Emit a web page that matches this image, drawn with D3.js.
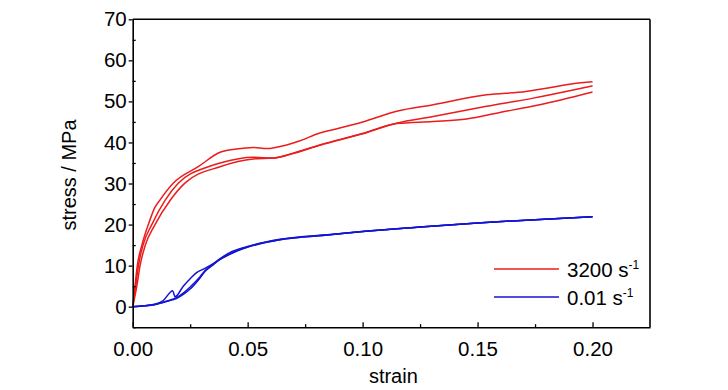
<!DOCTYPE html>
<html>
<head>
<meta charset="utf-8">
<script src="https://cdn.jsdelivr.net/npm/d3@7"></script>
<style>
  html, body { margin: 0; padding: 0; background: #fff; }
  svg { display: block; font-family: "Liberation Sans", Arial, sans-serif; }
</style>
</head>
<body>
<svg id="chart" width="728" height="390"></svg>
<script>
// ---- data (strain, stress MPa) ----
const redA = [[0,0],[0.001,5],[0.002,10],[0.004,15],[0.0068,20],[0.0095,24],[0.0119,26],[0.0177,30.1],[0.0285,34.1],[0.038,37.6],[0.045,38.4],[0.0524,38.8],[0.0583,38.5],[0.067,39.4],[0.0728,40.4],[0.0814,42.3],[0.087,43.1],[0.1,45.0],[0.1148,47.6],[0.1307,49.2],[0.1539,51.6],[0.171,52.4],[0.18,53.2],[0.1914,54.3],[0.2,54.8]];
const redB = [[0,0],[0.0013,5],[0.0025,10],[0.0045,15],[0.0083,20],[0.0142,26],[0.0199,30.1],[0.0329,34.1],[0.038,35.0],[0.0524,36.4],[0.0611,36.2],[0.0698,37.4],[0.0814,39.4],[0.1,42.2],[0.1148,44.7],[0.1307,46.3],[0.1539,48.8],[0.1742,50.8],[0.19,52.6],[0.2,53.8]];
const redC = [[0,0],[0.0018,5],[0.0032,10],[0.0055,15],[0.0097,20],[0.0164,26],[0.0227,30.1],[0.038,34.1],[0.0524,36.0],[0.0611,36.2],[0.0698,37.3],[0.0814,39.3],[0.1,42.1],[0.1148,44.6],[0.1307,45.1],[0.1452,45.7],[0.1597,47.3],[0.177,49.2],[0.2,52.3]];
const blueA = [[0,0],[0.005,0.2],[0.01,0.65],[0.0133,1.5],[0.0174,3.9],[0.0184,2.4],[0.022,5.0],[0.025,6.8],[0.0278,8.3],[0.031,9.2],[0.035,10.5],[0.038,11.7],[0.0424,13.2],[0.0496,14.6],[0.064,16.4],[0.0858,17.6],[0.1,18.3],[0.125,19.4],[0.15,20.4],[0.175,21.2],[0.2,21.9]];
const blueB = [[0,0],[0.005,0.2],[0.01,0.6],[0.015,1.4],[0.019,2.2],[0.022,3.3],[0.025,4.8],[0.0293,7.3],[0.0315,8.8],[0.035,10.3],[0.038,11.5],[0.0424,12.8],[0.0496,14.5],[0.064,16.3],[0.0858,17.5],[0.1,18.3],[0.125,19.4],[0.15,20.4],[0.175,21.2],[0.2,21.9]];
const blueC = [[0,0],[0.005,0.2],[0.01,0.55],[0.015,1.3],[0.019,2.0],[0.022,3.0],[0.025,4.3],[0.0293,7.0],[0.0315,8.6],[0.035,10.2],[0.038,11.5],[0.043,13.0],[0.0496,14.4],[0.064,16.3],[0.0858,17.5],[0.1,18.3],[0.125,19.4],[0.15,20.4],[0.175,21.2],[0.2,21.9]];

const redSeries = [redA, redB, redC];
const blueSeries = [blueA, blueB, blueC];
const xTicks = [0, 0.05, 0.10, 0.15, 0.20];
const xMinorTicks = [0.025, 0.075, 0.125, 0.175];
const yTicks = [0, 10, 20, 30, 40, 50, 60, 70];
const yMinorTicks = [-5, 5, 15, 25, 35, 45, 55, 65];
const legendLabels = ["3200", "0.01"];

// ---- layout ----
const svg = d3.select("#chart");
const L = 132.7, R = 650, T = 19.3, B = 327.2;
const x = d3.scaleLinear().domain([0, 0.225]).range([L, R]);
const y = d3.scaleLinear().domain([-5, 70]).range([B, T]);

const red = "#ea1c1c", blue = "#1414d2";

const line = d3.line().x(d => x(d[0])).y(d => y(d[1])).curve(d3.curveMonotoneX);

const plot = svg.append("g");
redSeries.forEach(s => plot.append("path").attr("d", line(s)).attr("fill", "none")
  .attr("stroke", red).attr("stroke-width", 1.5));
blueSeries.forEach(s => plot.append("path").attr("d", line(s)).attr("fill", "none")
  .attr("stroke", blue).attr("stroke-width", 1.5));

// frame (top & right)
svg.append("line").attr("x1", L).attr("x2", R).attr("y1", T).attr("y2", T)
  .attr("stroke", "#000").attr("stroke-width", 1.6);
svg.append("line").attr("x1", R).attr("x2", R).attr("y1", T).attr("y2", B)
  .attr("stroke", "#000").attr("stroke-width", 1.6);

// bottom axis (ticks inward)
const xAxis = d3.axisBottom(x).tickValues(xTicks).tickFormat(d3.format(".2f")).tickSizeInner(-5).tickSizeOuter(0).tickPadding(14);
svg.append("g").attr("transform", `translate(0,${B})`).call(xAxis);
const xMinor = d3.axisBottom(x).tickValues(xMinorTicks).tickSize(-3).tickFormat("");
svg.append("g").attr("transform", `translate(0,${B})`).call(xMinor).select(".domain").remove();

// left axis (major ticks outward, minor inward)
const yAxis = d3.axisLeft(y).tickValues(yTicks).tickFormat(d3.format("d")).tickSizeInner(4).tickSizeOuter(0).tickPadding(2);
svg.append("g").attr("transform", `translate(${L},0)`).call(yAxis);
const yMinor = d3.axisLeft(y).tickValues(yMinorTicks).tickSize(-3).tickFormat("");
svg.append("g").attr("transform", `translate(${L},0)`).call(yMinor).select(".domain").remove();

svg.selectAll(".domain").attr("stroke-width", 1.6);
svg.selectAll(".tick line").attr("stroke-width", 1.3);
svg.selectAll(".tick text").attr("font-size", 20.5).attr("font-family", "Liberation Sans, Arial, sans-serif").attr("fill", "#000");

// axis titles
svg.append("text").attr("x", (L + R) / 2 + 2).attr("y", 383).attr("text-anchor", "middle")
  .attr("font-size", 20).text("strain");
svg.append("text").attr("transform", `translate(76,175) rotate(-90)`).attr("text-anchor", "middle")
  .attr("font-size", 20).text("stress / MPa");

// legend
const leg = svg.append("g");
[[red, legendLabels[0], 269], [blue, legendLabels[1], 297]].forEach(([c, lab, yy]) => {
  leg.append("line").attr("x1", 494).attr("x2", 559).attr("y1", yy).attr("y2", yy)
    .attr("stroke", c).attr("stroke-width", 1.5);
  const t = leg.append("text").attr("x", 567).attr("y", yy + 7.5).attr("font-size", 20.5);
  t.append("tspan").text(lab + " s");
  t.append("tspan").attr("dy", -8).attr("font-size", 12).text("-1");
});
</script>
</body>
</html>
